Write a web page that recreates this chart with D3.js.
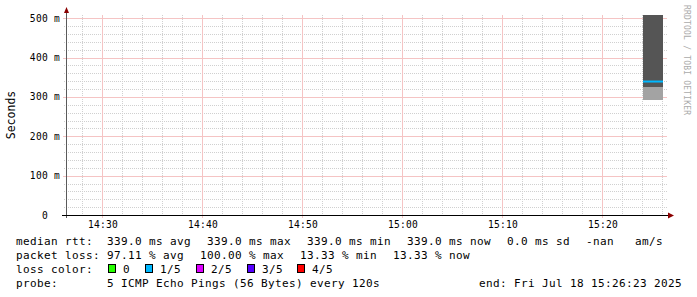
<!DOCTYPE html>
<html><head><meta charset="utf-8">
<script src="https://cdn.jsdelivr.net/npm/d3@7"></script>
<style>
body{margin:0;background:#fff}
svg{display:block}
text{font-family:"DejaVu Sans Mono",monospace;white-space:pre}
</style></head>
<body><svg id="c" width="697" height="297"></svg>
<script>
// ---- data ----
const timeDomain = ["2025-07-18T14:26:24", "2025-07-18T15:26:24"];
const yMaxSeconds = 0.508;
const yTickValues = [0, 0.1, 0.2, 0.3, 0.4, 0.5];
const yTickLabels = ["0  ", "100 m", "200 m", "300 m", "400 m", "500 m"];
const stepSeconds = 120;
const sampleTimes = ["2025-07-18T15:24:00"];
const smokeLow  = [[0.325, 0.292]];   // per sample: band lows (dark, light)
const smokeHigh = [[0.508, 0.325]];   // per sample: band highs (dark, light)
const medianRtt = [0.339];
const medianLossIndex = [1];
const lossLabels = ["0", "1/5", "2/5", "3/5", "4/5"];
const legendRtt = ["median rtt:", "339.0 ms avg", "339.0 ms max", "339.0 ms min", "339.0 ms now", "0.0 ms sd", "-nan", "am/s"];
const legendLoss = ["packet loss:", "97.11 % avg", "100.00 % max", "13.33 % min", "13.33 % now"];
const legendProbe = ["probe:", "5 ICMP Echo Pings (56 Bytes) every 120s"];
const legendEnd = "end: Fri Jul 18 15:26:23 2025";
const yAxisTitle = "Seconds";
const watermark = "RRDTOOL / TOBI OETIKER";

// ---- styles ----
const smokeColors = ["#555555", "#a3a3a3"];
const lossColors = ["#26ff00", "#00b8ff", "#dd00ff", "#5500ff", "#ff0000"];
const minorGrid = "#d0d0d0", majorGrid = "#f5c4c4";

const svg = d3.select("#c");
const parse = d3.timeParse("%Y-%m-%dT%H:%M:%S");
const x = d3.scaleTime().domain(timeDomain.map(parse)).range([67, 667]);
const y = d3.scaleLinear().domain([0, yMaxSeconds]).range([215, 15]);
const px = v => Math.round(x(v)) - 0.5;
const py = v => Math.round(y(v)) + 0.5;

// grid
const minorT = x.ticks(d3.timeMinute.every(2)).filter(d => d.getMinutes() % 10 !== 0);
const majorT = x.ticks(d3.timeMinute.every(10));
const minorY = d3.range(0.02, 0.5001, 0.02).filter(v => Math.abs(v*10 - Math.round(v*10)) > 1e-6);

const g = svg.append("g").attr("shape-rendering", "crispEdges");
g.selectAll("line.vmin").data(minorT).join("line").attr("class", "vmin")
  .attr("x1", px).attr("x2", px).attr("y1", 15).attr("y2", 215)
  .attr("stroke", minorGrid).attr("stroke-dasharray", "1,1");
g.selectAll("line.hmin").data(minorY).join("line").attr("class", "hmin")
  .attr("x1", 64).attr("x2", 667).attr("y1", py).attr("y2", py)
  .attr("stroke", minorGrid).attr("stroke-dasharray", "1,1");
g.selectAll("line.vmaj").data(majorT).join("line").attr("class", "vmaj")
  .attr("x1", px).attr("x2", px).attr("y1", 15).attr("y2", 218)
  .attr("stroke", majorGrid);
g.selectAll("line.hmaj").data(yTickValues.slice(1)).join("line").attr("class", "hmaj")
  .attr("x1", 63).attr("x2", 667).attr("y1", py).attr("y2", py)
  .attr("stroke", majorGrid);

// smoke
sampleTimes.forEach((t, i) => {
  const t0 = parse(t), t1 = new Date(t0.getTime() + stepSeconds * 1000);
  smokeLow[i].forEach((lo, j) => {
    const hi = smokeHigh[i][j];
    svg.append("rect").attr("x", Math.round(x(t0))).attr("width", Math.round(x(t1)) - Math.round(x(t0)))
      .attr("y", Math.round(y(hi))).attr("height", Math.round(y(lo)) - Math.round(y(hi)))
      .attr("fill", smokeColors[j]);
  });
  svg.append("rect").attr("x", Math.round(x(t0))).attr("width", Math.round(x(t1)) - Math.round(x(t0)))
    .attr("y", y(medianRtt[i]) - 1).attr("height", 2)
    .attr("fill", lossColors[medianLossIndex[i]]);
});

// axes
svg.append("line").attr("x1", 66.5).attr("x2", 66.5).attr("y1", 12).attr("y2", 218)
  .attr("stroke", "#5a5a5a");
svg.append("line").attr("x1", 62).attr("x2", 669).attr("y1", 215.5).attr("y2", 215.5)
  .attr("stroke", "#000");
svg.append("path").attr("d", "M64,13 L69,13 L66.5,7 Z").attr("fill", "#8b0000");
svg.append("path").attr("d", "M668,212.5 L668,218.5 L674,215.5 Z").attr("fill", "#8b0000");

// tick labels
svg.selectAll("text.yl").data(yTickValues).join("text").attr("class", "yl")
  .attr("x", 60).attr("y", d => y(d) + 3.5).attr("text-anchor", "end")
  .attr("font-size", 9.6).attr("letter-spacing", 0.25).attr("fill", "#000")
  .text((d, i) => yTickLabels[i]);
svg.selectAll("text.xl").data(majorT).join("text").attr("class", "xl")
  .attr("x", d => x(d)).attr("y", 228).attr("text-anchor", "middle")
  .attr("font-size", 9.6).attr("letter-spacing", 0.25).attr("fill", "#000")
  .text(d3.timeFormat("%H:%M"));

// y title
svg.append("text").attr("transform", "translate(15,115) rotate(-90)")
  .attr("text-anchor", "middle").attr("font-size", 11.5).attr("fill", "#000").text(yAxisTitle);
// watermark
svg.append("text").attr("transform", "translate(684,5) rotate(90)")
  .attr("text-anchor", "start").attr("font-size", 8).attr("letter-spacing", 0.2)
  .attr("fill", "#aaaaaa").text(watermark);

// legend
const lf = 11, ls = 0.38;
function seg(txt, xx, yy, anchor) {
  svg.append("text").attr("x", xx).attr("y", yy).attr("font-size", lf).attr("letter-spacing", ls)
    .attr("text-anchor", anchor || "start").attr("fill", "#000").text(txt);
}
const row1X = [16, 107, 207, 307, 407, 507, 586, 635];
legendRtt.forEach((t, i) => seg(t, row1X[i], 245));
const row2X = [16, 107, 200, 300, 393];
legendLoss.forEach((t, i) => seg(t, row2X[i], 259));
seg("loss color:", 16, 273);
const boxX = [108, 145, 196, 247, 297];
lossLabels.forEach((t, i) => {
  svg.append("rect").attr("x", boxX[i] + 0.5).attr("y", 264.5).attr("width", 7).attr("height", 8)
    .attr("fill", lossColors[i]).attr("stroke", "#000");
  seg(t, boxX[i] + 15, 273);
});
seg(legendProbe[0], 16, 287);
seg(legendProbe[1], 107, 287);
seg(legendEnd, 682, 287, "end");
</script></body></html>
